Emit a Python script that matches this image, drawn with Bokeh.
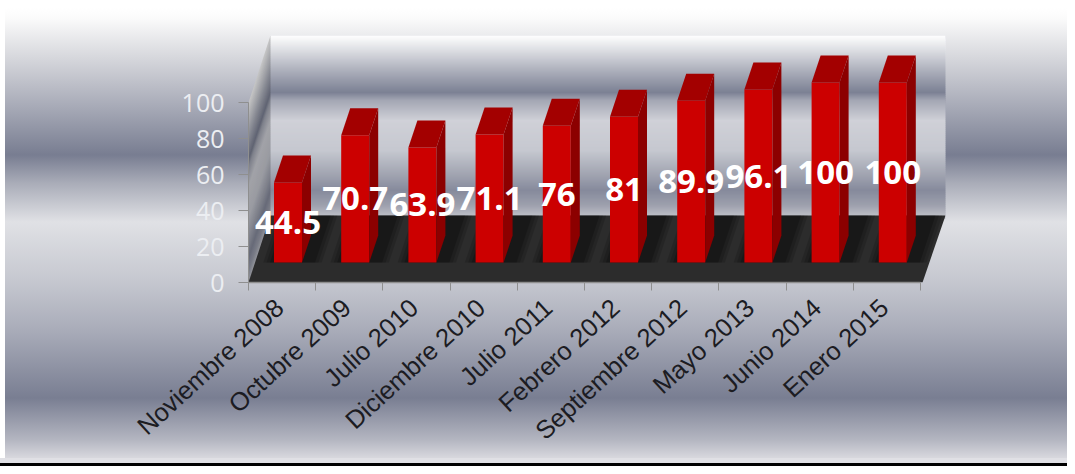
from bokeh.embed import file_html
from bokeh.resources import INLINE
from bokeh.plotting import figure
from bokeh.models import Range1d, FixedTicker
from bokeh.core.properties import value

categories = ["Noviembre 2008", "Octubre 2009", "Julio 2010", "Diciembre 2010", "Julio 2011",
              "Febrero 2012", "Septiembre 2012", "Mayo 2013", "Junio 2014", "Enero 2015"]
values = [44.5, 70.7, 63.9, 71.1, 76, 81, 89.9, 96.1, 100, 100]
y_ticks = [0, 20, 40, 60, 80, 100]

# geometry of the fake 3D box, in data units (x: one category = 1, y: value units)
PX_X, PX_Y = 67.2, 1.8
X_MAX, Y_MAX = 697 / PX_X, 247 / PX_Y
FLOOR_DX, FLOOR_DY = 22 / PX_X, 67 / PX_Y
BAR_GAP, BAR_W = 25.5 / PX_X, 28 / PX_X
BAR_DX, BAR_DY = 9 / PX_X, 27 / PX_Y
BAR_BASE = 20 / PX_Y
LABEL_POS = 0.46

BG_STOPS = [(0, "#ffffff"), (8, "#ffffff"), (18, "#fbfbfb"), (58, "#d6d7dc"), (108, "#a6a9b6"), (155, "#787d91"),
            (183, "#a9acb8"), (222, "#e0e1e5"), (280, "#c6c8d0"), (330, "#a9acb9"), (398, "#797e92"),
            (440, "#b4b6c1"), (458, "#d8d8de")]
WALL_STOPS = [(35, "#ffffff"), (45, "#e8e9ec"), (70, "#adb0bc"), (92, "#7c8194"), (100, "#a4a7b4"),
              (120, "#d0d1d8"), (150, "#c6c8d0"), (175, "#a0a3b0"), (190, "#868a9c"), (205, "#9ea1ae"),
              (215, "#bcbec6")]


def hex_rgb(c):
    return tuple(int(c[i:i + 2], 16) for i in (1, 3, 5))


def wall_colour(py, factor=1.0):
    for (a, ca), (b, cb) in zip(WALL_STOPS, WALL_STOPS[1:]):
        if a <= py <= b:
            t = (py - a) / (b - a)
            r = [u + (v - u) * t for u, v in zip(hex_rgb(ca), hex_rgb(cb))]
            return "#%02x%02x%02x" % tuple(int(x * factor) for x in r)
    return WALL_STOPS[-1][1]


gradient = ", ".join(f"{c} {px}px" for px, c in BG_STOPS)
p = figure(width=1067, height=458, output_backend="svg", toolbar_location=None,
           x_range=Range1d(0, X_MAX), y_range=Range1d(0, Y_MAX),
           min_border_left=248, min_border_right=122, min_border_top=35, min_border_bottom=176,
           border_fill_color=None, background_fill_color=None, outline_line_color=None)
p.styles = {"background": f"linear-gradient(to right, #ffffff 5px, transparent 5px), "
                          f"linear-gradient(to bottom, {gradient})",
            "box-shadow": "0 5px 0 0 #e0e0e5, 0 8px 0 0 #000000"}
p.grid.visible = False

# back wall and left wall as thin overlapping bands following the gradient
band_px = 2
for py in range(35, 215, band_px):
    top = Y_MAX - (py - 35) / PX_Y
    bot = Y_MAX - (py + band_px - 35) / PX_Y
    col = wall_colour(py + band_px / 2)
    p.quad(left=FLOOR_DX, right=X_MAX, top=top, bottom=bot - 2, fill_color=col, line_color=None)
    side = wall_colour(py + band_px / 2, 0.78)
    p.patch([0, FLOOR_DX, FLOOR_DX, 0],
            [bot - FLOOR_DY - 2, bot - 2, top, top - FLOOR_DY],
            fill_color=side, line_color=None)

# floor
FLOOR_RIGHT_FRONT = X_MAX - 23 / PX_X
p.patch([0, FLOOR_DX, X_MAX, FLOOR_RIGHT_FRONT], [0, FLOOR_DY, FLOOR_DY, 0],
        fill_color="#2c2c2c", line_color=None)

# bars
xs_front = [i + BAR_GAP for i in range(len(values))]

# soft dark strips on the floor, around each bar's foot
for margin, alpha in [(0.16, 0.14), (0.11, 0.16), (0.06, 0.2)]:
    skew = (FLOOR_DY - BAR_BASE) / BAR_DY * BAR_DX
    xs = [[x - margin, x - margin + skew, x + BAR_W + BAR_DX + margin + skew, x + BAR_W + BAR_DX + margin]
          for x in xs_front]
    p.patches(xs, [[BAR_BASE, FLOOR_DY, FLOOR_DY, BAR_BASE]] * len(xs),
              fill_color="#000000", fill_alpha=alpha, line_color=None)

p.quad(left=xs_front, right=[x + BAR_W for x in xs_front],
       bottom=BAR_BASE, top=[BAR_BASE + v for v in values],
       fill_color="#cc0000", line_color=None)
p.patches([[x + BAR_W, x + BAR_W + BAR_DX, x + BAR_W + BAR_DX, x + BAR_W] for x in xs_front],
          [[BAR_BASE, BAR_BASE + BAR_DY, BAR_BASE + BAR_DY + v, BAR_BASE + v] for v in values],
          fill_color="#8c0000", line_color=None)
p.patches([[x, x + BAR_DX, x + BAR_W + BAR_DX, x + BAR_W] for x in xs_front],
          [[BAR_BASE + v, BAR_BASE + v + BAR_DY, BAR_BASE + v + BAR_DY, BAR_BASE + v] for v in values],
          fill_color="#a30000", line_color=None)

# data labels
p.text(x=[x + BAR_W / 2 for x in xs_front], y=[BAR_BASE + v / 2 for v in values],
       text=[f"{v:g}" for v in values], text_color="#ffffff", text_font=value("Open Sans"),
       text_font_style="bold", text_font_size="33px", text_align="center", text_baseline="middle")

# axes
AXIS_GREY = "#8f8f8f"
ya = p.yaxis[0]
ya.ticker = FixedTicker(ticks=y_ticks)
ya.bounds = (0, 100)
ya.axis_line_color = AXIS_GREY
ya.major_tick_line_color = AXIS_GREY
ya.major_tick_out, ya.major_tick_in = 10, 0
ya.minor_tick_line_color = None
ya.major_label_standoff = 14
ya.major_label_text_font = "Open Sans"
ya.major_label_text_font_size = "25px"
ya.major_label_text_color = "#eceef2"

xa = p.xaxis[0]
xa.ticker = FixedTicker(ticks=[i + LABEL_POS for i in range(len(categories))],
                        minor_ticks=list(range(len(categories) + 1)))
xa.major_label_overrides = {i + LABEL_POS: c for i, c in enumerate(categories)}
xa.bounds = (0, len(categories))
xa.axis_line_color = AXIS_GREY
xa.axis_line_width = 1.5
xa.major_tick_line_color = None
xa.major_tick_out, xa.major_tick_in = 0, 0
xa.minor_tick_line_color = AXIS_GREY
xa.minor_tick_out, xa.minor_tick_in = 8, 0
xa.major_label_standoff = 13
xa.major_label_orientation = 0.74
xa.major_label_text_font = "Liberation Sans"
xa.major_label_text_font_size = "25.5px"
xa.major_label_text_color = "#1c1c22"

open("out.html", "w").write(file_html(p, INLINE))
